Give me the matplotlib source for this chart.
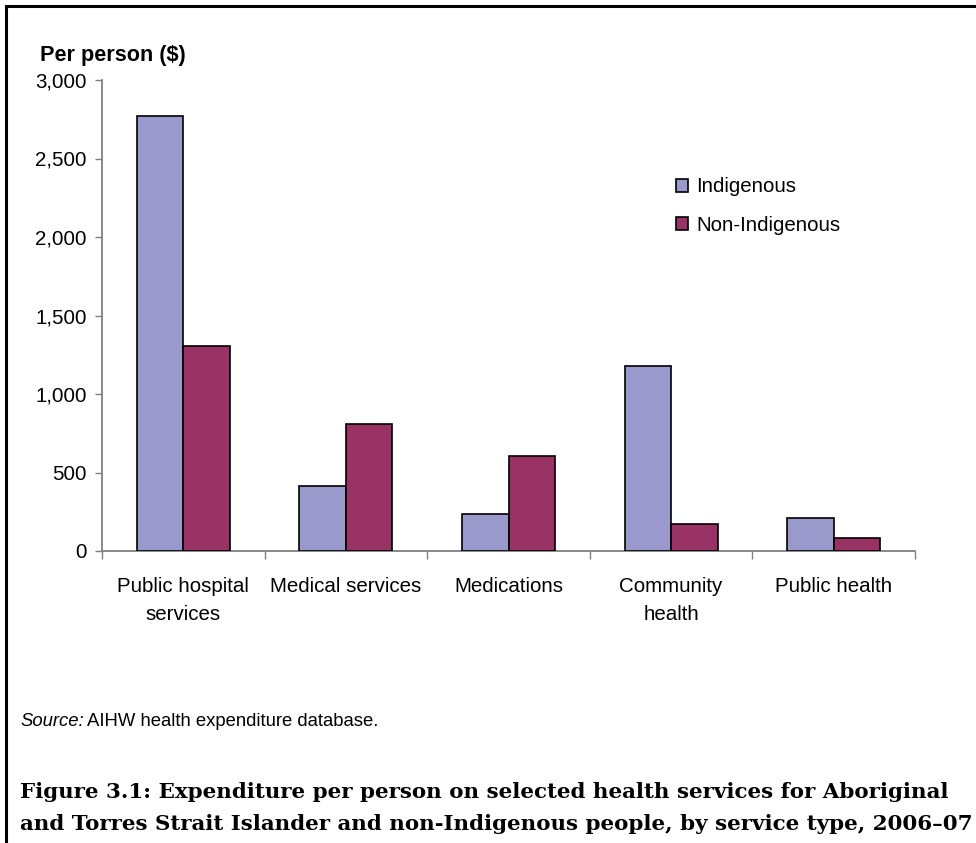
import matplotlib as mpl
mpl.use('Agg')
from matplotlib import pyplot as plt
from matplotlib.patches import Rectangle, Patch
import numpy as np

# expenditure per person, 2006-07
categories = ['Public hospital\nservices', 'Medical services', 'Medications',
              'Community\nhealth', 'Public health']
indigenous = [2770, 414, 236, 1178, 210]
non_indigenous = [1305, 809, 605, 172, 83]
series_names = ['Indigenous', 'Non-Indigenous']
yticks = [0, 500, 1000, 1500, 2000, 2500, 3000]

col_ind = '#9999cc'
col_non = '#993366'
axis_grey = '#808080'

plt.rcParams['font.family'] = ['Liberation Sans', 'DejaVu Sans']

fig = plt.figure(figsize=(9.76, 8.43), dpi=100)
ax = fig.add_axes([102/976, 1 - 551/843, 813/976, 471/843])

x = np.arange(len(categories))
w = 0.286
ax.bar(x - w/2, indigenous, w, color=col_ind, edgecolor='black', linewidth=1.2, zorder=3)
ax.bar(x + w/2, non_indigenous, w, color=col_non, edgecolor='black', linewidth=1.2, zorder=3)

ax.set_xlim(-0.5, len(categories) - 0.5)
ax.set_ylim(0, 3000)
ax.set_yticks(yticks)
ax.set_yticklabels(['{:,}'.format(v) for v in yticks], fontsize=14.8)
ax.set_xticks(x)
ax.set_xticklabels(categories, fontsize=14.8, linespacing=1.6)
ax.tick_params(axis='x', length=0, pad=19)
ax.set_xticks(np.arange(len(categories) + 1) - 0.5, minor=True)
ax.tick_params(axis='x', which='minor', length=6, color=axis_grey, width=1)
ax.tick_params(axis='y', length=5, color=axis_grey, width=1, pad=6)
for s in ['top', 'right']:
    ax.spines[s].set_visible(False)
for s in ['left', 'bottom']:
    ax.spines[s].set_color(axis_grey)
    ax.spines[s].set_linewidth(1.3)

fig.text(40/976, 1 - 56/843, 'Per person ($)', fontsize=15.6, fontweight='bold',
         va='center', ha='left')

handles = [Patch(facecolor=col_ind, edgecolor='black', linewidth=1.2),
           Patch(facecolor=col_non, edgecolor='black', linewidth=1.2)]
fig.legend(handles, series_names, loc='upper left', bbox_to_anchor=(657/976, 1 - 159/843),
           frameon=False, fontsize=14.8, handlelength=0.6, handleheight=0.6,
           handletextpad=0.4, labelspacing=0.95)

fig.text(20/976, 1 - 721/843, 'Source:', fontsize=13.3, style='italic', va='center')
fig.text(87/976, 1 - 721/843, 'AIHW health expenditure database.', fontsize=13.3, va='center')

title = ('Figure 3.1: Expenditure per person on selected health services for Aboriginal\n'
         'and Torres Strait Islander and non-Indigenous people, by service type, 2006\u201307')
fig.text(20/976, 1 - 808/843, title, fontsize=15.4, fontweight='bold',
         family=['DejaVu Serif'], va='center', ha='left', linespacing=1.72)

# frame around the figure
fig.patches.append(Rectangle((6/976, -0.05), 1.05, 1 - 6/843 + 0.05, transform=fig.transFigure,
                             fill=False, edgecolor='black', linewidth=2.2, clip_on=False))

fig.savefig('out.png', dpi=100)
